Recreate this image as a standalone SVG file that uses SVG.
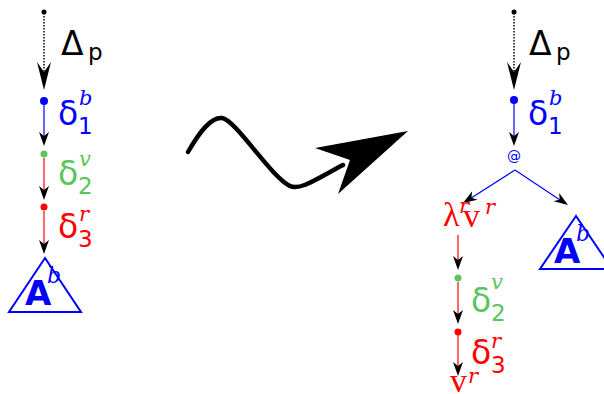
<svg xmlns="http://www.w3.org/2000/svg" width="604" height="394" viewBox="0 0 604 394">
<style>
.sans{font-family:"DejaVu Sans","Liberation Sans",sans-serif}
.tms{font-family:"Liberation Serif","DejaVu Serif",serif}
.sup{font-family:"DejaVu Serif","Liberation Serif",serif;font-style:italic;font-size:21px}
.big{font-size:33px}
.mid{font-size:33px}
.sub{font-size:23px}
.lam{font-size:34px}
.blue{fill:#0000ff}
.green{fill:#5cc45c}
.red{fill:#ff0000}
.blk{fill:#000}
.dot{stroke:#000;stroke-width:1.5;stroke-dasharray:1.5 1.5;fill:none}
.lb{stroke:#0000ff;stroke-width:1.2;fill:none}
.lr{stroke:#ff0000;stroke-width:1.2;fill:none}
.tri{fill:none;stroke:#0000ff;stroke-width:2}
.A{font-family:"DejaVu Sans","Liberation Sans",sans-serif;font-weight:bold;font-size:34px;fill:#0000ff}
</style>
<defs>
<path id="bigarrow" d="M0,0 L-7,-28 L0,-18 L7,-28 Z" fill="#000"/>
<path id="arr" d="M0,0 L-5,-14 L0,-10 L5,-14 Z" fill="#000"/>
</defs>

<g id="connectors">
  <line class="dot" x1="44" y1="13" x2="44" y2="75"/>
  <use href="#bigarrow" x="44" y="90"/>
  <line class="lb" x1="44" y1="104" x2="44" y2="140"/>
  <use href="#arr" x="44" y="146"/>
  <line class="lr" x1="44" y1="158" x2="44" y2="194"/>
  <use href="#arr" x="44" y="200"/>
  <line class="lr" x1="44" y1="211" x2="44" y2="248"/>
  <use href="#arr" x="44" y="254"/>
  <line class="dot" x1="514" y1="13" x2="514" y2="75"/>
  <use href="#bigarrow" x="514" y="90"/>
  <line class="lb" x1="514" y1="104" x2="514" y2="140"/>
  <use href="#arr" x="514" y="146"/>
  <line class="lb" x1="515" y1="170" x2="468" y2="200"/>
  <use href="#arr" transform="translate(463,203) rotate(57.5)"/>
  <line class="lb" x1="515" y1="170" x2="563" y2="202"/>
  <use href="#arr" transform="translate(568,205) rotate(-56)"/>
  <line class="lr" x1="458" y1="235" x2="458" y2="262"/>
  <use href="#arr" x="458" y="270"/>
  <line class="lr" x1="458" y1="282" x2="458" y2="317"/>
  <use href="#arr" x="458" y="324"/>
  <line class="lr" x1="458" y1="335" x2="458" y2="368"/>
  <use href="#arr" x="458" y="376"/>
  <path d="M188,152 C200,131 211,117 222,118 C236,120 270,176 290,186 C300,191 318,178 343,165" fill="none" stroke="#000" stroke-width="4.5" stroke-linecap="round"/>
  <path d="M408,131 L315,148 L350,160 L338,194 Z" fill="#000"/>
</g>

<g id="start-left">
  <circle cx="44" cy="12" r="2.5" fill="#000"/>
  <text class="sans big blk" x="61" y="55">Δ</text>
  <text class="sans sub blk" x="88" y="60">p</text>
</g>
<g id="d1-left">
  <circle cx="44" cy="101" r="4" fill="#0000ff"/>
  <text class="sans mid blue" x="58" y="125">δ</text>
  <text class="sans sub blue" x="78" y="134">1</text>
  <text class="sup blue" x="79" y="105">b</text>
</g>
<g id="d2-left">
  <circle cx="44" cy="154" r="3.5" fill="#5cc45c"/>
  <text class="sans mid green" x="58" y="185">δ</text>
  <text class="sans sub green" x="78" y="194">2</text>
  <text class="sup green" x="79" y="166">v</text>
</g>
<g id="d3-left">
  <circle cx="44" cy="207" r="3.5" fill="#ff0000"/>
  <text class="sans mid red" x="58" y="238">δ</text>
  <text class="sans sub red" x="78" y="247">3</text>
  <text class="sup red" x="79" y="221">r</text>
</g>
<g id="A-left">
  <polygon class="tri" points="45,258 9,312 81,312"/>
  <text class="A" x="25" y="305">A</text>
  <text class="sup blue" x="47" y="283" style="font-size:22px">b</text>
</g>

<g id="start-right">
  <circle cx="514" cy="12" r="2.5" fill="#000"/>
  <text class="sans big blk" x="529" y="55">Δ</text>
  <text class="sans sub blk" x="556" y="60">p</text>
</g>
<g id="d1-right">
  <circle cx="514" cy="100" r="4" fill="#0000ff"/>
  <text class="sans mid blue" x="528" y="125">δ</text>
  <text class="sans sub blue" x="548" y="134">1</text>
  <text class="sup blue" x="549" y="105">b</text>
</g>
<g id="app">
  <text class="sans blue" x="514" y="161" font-size="14" text-anchor="middle">@</text>
</g>
<g id="lambda">
  <text class="tms lam red" x="443" y="226">λ</text>
  <text class="sup red" x="459" y="213">r</text>
  <text class="tms lam red" x="463" y="227">v</text>
  <text class="sup red" x="485" y="214">r</text>
</g>
<g id="A-right">
  <polygon class="tri" points="576,216 540,269 612,269"/>
  <text class="A" x="554" y="263">A</text>
  <text class="sup blue" x="576" y="241" style="font-size:22px">b</text>
</g>
<g id="d2-right">
  <circle cx="458" cy="278" r="3.5" fill="#5cc45c"/>
  <text class="sans mid green" x="471" y="312">δ</text>
  <text class="sans sub green" x="491" y="321">2</text>
  <text class="sup green" x="491" y="289">v</text>
</g>
<g id="d3-right">
  <circle cx="458" cy="332" r="3.5" fill="#ff0000"/>
  <text class="sans mid red" x="471" y="364">δ</text>
  <text class="sans sub red" x="491" y="373">3</text>
  <text class="sup red" x="491" y="348">r</text>
</g>
<g id="v-end">
  <text class="tms lam red" x="450" y="392">v</text>
  <text class="sup red" x="468" y="383">r</text>
</g>
</svg>
